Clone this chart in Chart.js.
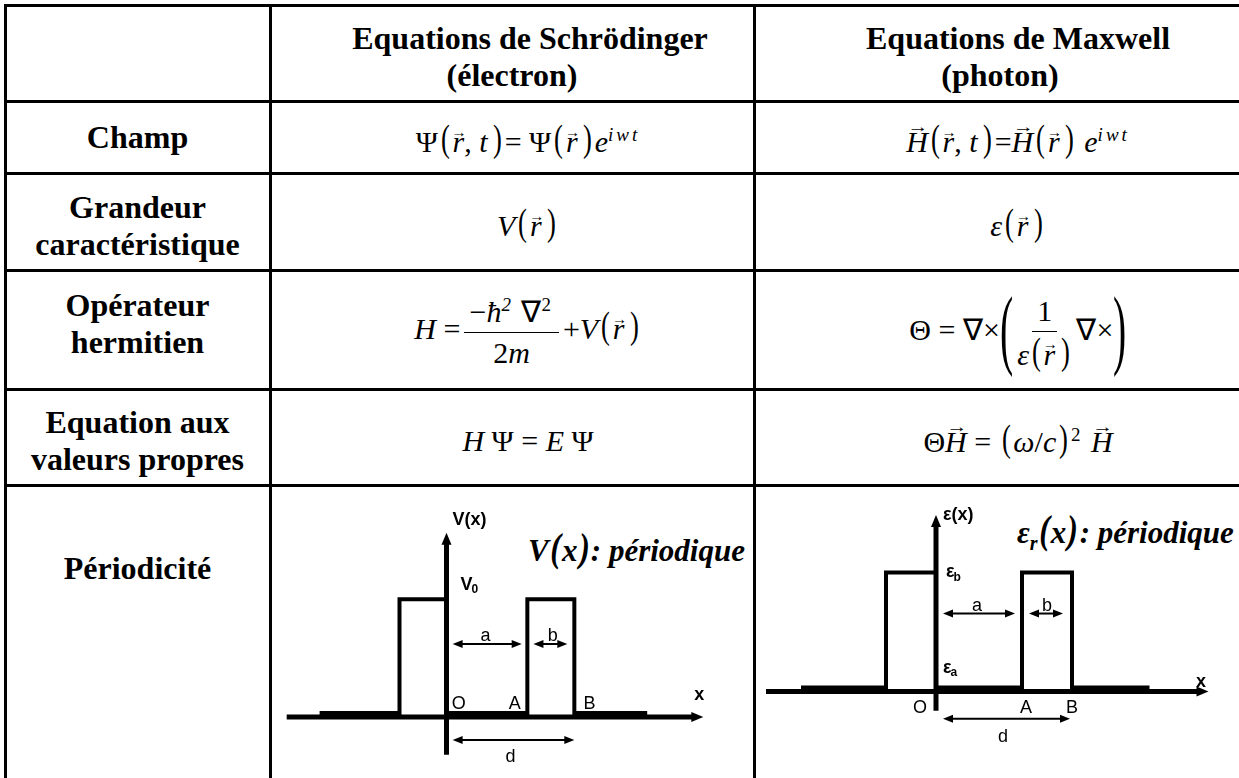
<!DOCTYPE html>
<html lang="fr">
<head>
<meta charset="UTF-8">
<title>Schrödinger / Maxwell</title>
<script src="https://cdn.jsdelivr.net/npm/chart.js"></script>
<style>
    body { margin: 0; width: 1239px; height: 778px; overflow: hidden; position: relative; background: #fff; color: #000;
           font-family: "Liberation Serif", "Times New Roman", serif; }
    .hl { position: absolute; left: 4px; width: 1240px; height: 3px; background: #000; }
    .vl { position: absolute; top: 4px; width: 3px; height: 780px; background: #000; }
    .cell { position: absolute; box-sizing: border-box; display: flex; flex-direction: column; align-items: center;
            justify-content: center; font-size: 32px; line-height: 37px; white-space: nowrap; }
    .hd { font-weight: bold; }
    .f2, .f3 { font-size: 30px; padding-top: 6px; }
    .f2 { padding-left: 32px; }
    .f3 { padding-left: 36px; }
    .cell i { font-style: italic; }
    .p { display: inline-block; font-size: 38px; transform: scaleX(0.7); margin: 0 1px; position: relative; top: -1px; }
    .vr, .vh { position: relative; display: inline-block; }
    .vr::after, .vh::after { content: "\2192"; position: absolute; left: 50%; font-size: 15px; line-height: 1;
                             font-style: normal; transform: translateX(-45%); }
    .vr::after { top: 2px; }
    .vh::after { top: -6px; left: 55%; font-size: 21px; transform: translateX(-50%) scaleY(0.75); }
    sup { font-size: 19px; line-height: 0; vertical-align: 0.6em; font-style: italic; letter-spacing: 3px; }
    .frac { display: inline-flex; flex-direction: column; align-items: center; vertical-align: middle; margin: 0 4px; line-height: 40px; }
    .frac .num { border-bottom: 1.5px solid #000; padding: 0 5px 0; }
    .bp { display: inline-block; font-size: 88px; line-height: 1; vertical-align: middle; transform: scaleX(0.45); margin: 0 -8px; position: relative; top: -4px; }
    .pt { position: absolute; font: italic bold 31px/36px "Liberation Serif", serif; white-space: nowrap; }
    .pt .pp { display: inline-block; font-size: 40px; transform: scaleX(0.8); }
    .pt sub { font-size: 20px; line-height: 0; }
    canvas { position: absolute; }
</style>
</head>
<body>
<!-- grille du tableau -->
<div class="hl" style="top:3.5px"></div>
<div class="hl" style="top:99.5px"></div>
<div class="hl" style="top:171.5px"></div>
<div class="hl" style="top:268.5px"></div>
<div class="hl" style="top:387.5px"></div>
<div class="hl" style="top:483.5px"></div>
<div class="vl" style="left:3.5px"></div>
<div class="vl" style="left:268.5px"></div>
<div class="vl" style="left:752.5px"></div>

<!-- en-tetes -->
<div class="cell hd" style="left:271px;top:6px;width:482px;height:94px;padding-top:8px">
    <div style="padding-left:36px">Equations de Schrödinger</div><div>(électron)</div>
</div>
<div class="cell hd" style="left:755px;top:6px;width:490px;height:94px;padding-top:8px">
    <div style="padding-left:36px">Equations de Maxwell</div><div>(photon)</div>
</div>

<!-- premiere colonne -->
<div class="cell hd" style="left:6px;top:102px;width:263px;height:70px">Champ</div>
<div class="cell hd" style="left:6px;top:174px;width:263px;height:95px;padding-top:8px"><div>Grandeur</div><div>caractéristique</div></div>
<div class="cell hd" style="left:6px;top:271px;width:263px;height:117px;padding-bottom:12px"><div>Opérateur</div><div>hermitien</div></div>
<div class="cell hd" style="left:6px;top:390px;width:263px;height:94px;padding-top:8px"><div>Equation aux</div><div>valeurs propres</div></div>
<div class="cell hd" style="left:6px;top:486px;width:263px;height:292px;justify-content:flex-start;padding-top:64px">Périodicité</div>

<!-- formules -->
<div class="cell f2" style="left:271px;top:102px;width:482px;height:70px">
    <span>Ψ<span class="p">(</span><i class="vr">r</i>, <i>t</i>&#8202;<span class="p">)</span>= Ψ<span class="p">(</span><i class="vr">r</i>&#8202;<span class="p">)</span><i>e</i><sup>iwt</sup></span>
</div>
<div class="cell f3" style="left:755px;top:102px;width:490px;height:70px">
    <span><i class="vh">H</i><span class="p">(</span><i class="vr">r</i>, <i>t</i>&#8202;<span class="p">)</span>=<i class="vh">H</i><span class="p">(</span><i class="vr">r</i>&#8202;<span class="p">)</span> <i>e</i><sup>iwt</sup></span>
</div>
<div class="cell f2" style="left:271px;top:174px;width:482px;height:95px">
    <span><i>V</i><span class="p">(</span><i class="vr">r</i>&#8202;<span class="p">)</span></span>
</div>
<div class="cell f3" style="left:755px;top:174px;width:490px;height:95px">
    <span><i>ε</i><span class="p">(</span><i class="vr">r</i>&#8202;<span class="p">)</span></span>
</div>
<div class="cell f2" style="left:271px;top:271px;width:482px;height:117px">
    <span><i>H</i> =<span class="frac"><span class="num">−<i>ħ</i><sup>2</sup> ∇<sup style="font-style:normal">2</sup></span><span>2<i>m</i></span></span>+<i>V</i><span class="p">(</span><i class="vr">r</i>&#8202;<span class="p">)</span></span>
</div>
<div class="cell f3" style="left:755px;top:271px;width:490px;height:117px">
    <span>Θ = ∇×<span class="bp">(</span><span class="frac"><span class="num">1</span><span><i>ε</i><span class="p">(</span><i class="vr">r</i>&#8202;<span class="p">)</span></span></span>∇×<span class="bp">)</span></span>
</div>
<div class="cell f2" style="left:271px;top:390px;width:482px;height:94px">
    <span><i>H</i> Ψ = <i>E</i> Ψ</span>
</div>
<div class="cell f3" style="left:755px;top:390px;width:490px;height:94px">
    <span>Θ<i class="vh">H</i> = <span class="p">(</span><i>ω</i>/<i>c</i><span class="p">)</span><sup style="font-style:normal">2</sup> <i class="vh">H</i></span>
</div>

<!-- periodicite -->
<div class="pt" style="left:528px;top:530px">V<span class="pp">(</span>x<span class="pp">)</span>: périodique</div>
<div class="pt" style="left:1017px;top:512px">ε<sub>r</sub><span class="pp">(</span>x<span class="pp">)</span>: périodique</div>

<canvas id="vChart" width="470" height="289" style="left:281.5px;top:492.8px"></canvas>
<canvas id="epsChart" width="475" height="286" style="left:761px;top:488.7px"></canvas>

<script>
    // profil periodique : demi-periode a gauche + une periode (b = 1, a = 1.72)
    const profileX = [-2.7, -1, -1, 0, 0, 1.72, 1.72, 2.72, 2.72, 4.27];
    const profileY = [0.035, 0.035, 1, 1, 0.035, 0.035, 1, 1, 0.035, 0.035];
    const xAxisX = [-3.4, 5.23];
    const vAxisY = [-0.32, 1.47];
    const epsAxisY = [-0.16, 1.39];
    const pointNames = ['O', 'A', 'B'];
    const pointX = [0, 1.72, 2.72];

    function arrowHead(ctx, tx, ty, dx, dy, len, half) {
        const bx = tx - dx * len, by = ty - dy * len;
        ctx.beginPath();
        ctx.moveTo(tx, ty);
        ctx.lineTo(bx - dy * half, by + dx * half);
        ctx.lineTo(bx + dy * half, by - dx * half);
        ctx.closePath();
        ctx.fill();
    }

    const decor = {
        id: 'decor',
        afterDatasetsDraw(chart, args, opts) {
            const ctx = chart.ctx;
            const px = v => chart.scales.x.getPixelForValue(v);
            const py = v => chart.scales.y.getPixelForValue(v);
            ctx.save();
            ctx.fillStyle = '#000';
            ctx.strokeStyle = '#000';

            // fleches des axes
            arrowHead(ctx, px(0), py(opts.yAxis[1]) - 11, 0, -1, 12, 5);
            arrowHead(ctx, px(xAxisX[1]) + 11, py(0), 1, 0, 12, 5);

            // cotes a, b, d
            ctx.lineWidth = 2;
            opts.dims.forEach(d => {
                const x1 = px(d.from), x2 = px(d.to), yy = py(d.y);
                ctx.beginPath();
                ctx.moveTo(x1 + 5, yy);
                ctx.lineTo(x2 - 5, yy);
                ctx.stroke();
                arrowHead(ctx, x1, yy, -1, 0, 10, 4);
                arrowHead(ctx, x2, yy, 1, 0, 10, 4);
            });

            // etiquettes
            opts.labels.forEach(l => {
                ctx.font = (l.bold ? 'bold ' : '') + '18px "Liberation Sans", Arial, sans-serif';
                ctx.textBaseline = 'middle';
                ctx.textAlign = l.align || 'center';
                const x = px(l.x), y = py(l.y);
                ctx.fillText(l.t, x, y);
                if (l.sub) {
                    const w = ctx.measureText(l.t).width;
                    ctx.font = 'bold 12px "Liberation Sans", Arial, sans-serif';
                    ctx.textAlign = 'left';
                    ctx.fillText(l.sub, x + w - 1, y + 5);
                }
            });
            ctx.restore();
        }
    };

    function makeDiagram(id, xRange, yRange, yAxis, dims, labels) {
        const line = (data, w) => ({
            data, showLine: true, borderColor: '#000', borderWidth: w, pointRadius: 0,
            tension: 0, borderJoinStyle: 'miter', borderCapStyle: 'butt', fill: false
        });
        new Chart(document.getElementById(id), {
            type: 'scatter',
            data: {
                datasets: [
                    line(xAxisX.map(x => ({ x, y: 0 })), 5),
                    line(yAxis.map(y => ({ x: 0, y })), 5),
                    line(profileX.map((x, i) => ({ x, y: profileY[i] })), 4)
                ]
            },
            options: {
                responsive: false,
                animation: false,
                events: [],
                layout: { padding: 0 },
                plugins: { legend: { display: false }, tooltip: { enabled: false }, decor: { yAxis, dims, labels } },
                scales: {
                    x: { type: 'linear', display: false, min: xRange[0], max: xRange[1] },
                    y: { type: 'linear', display: false, min: yRange[0], max: yRange[1] }
                }
            },
            plugins: [decor]
        });
    }

    makeDiagram('vChart', [-3.5, 6.5], [-0.55, 1.9], vAxisY,
        [
            { from: pointX[0] + 0.13, to: pointX[1] - 0.12, y: 0.62 },
            { from: pointX[1] + 0.13, to: pointX[2] - 0.15, y: 0.62 },
            { from: pointX[0] + 0.13, to: pointX[2], y: -0.195 }
        ],
        [
            { t: 'V(x)', x: 0.13, y: 1.67, align: 'left', bold: true },
            { t: 'V', sub: '0', x: 0.3, y: 1.12, align: 'left', bold: true },
            { t: 'a', x: 0.83, y: 0.69 },
            { t: 'b', x: 2.26, y: 0.69 },
            { t: pointNames[0], x: pointX[0] + 0.26, y: 0.11 },
            { t: pointNames[1], x: pointX[1] - 0.27, y: 0.11 },
            { t: pointNames[2], x: pointX[2] + 0.32, y: 0.11 },
            { t: 'd', x: 1.36, y: -0.34 },
            { t: 'x', x: 5.38, y: 0.19, bold: true }
        ]);

    makeDiagram('epsChart', [-3.5, 6.0], [-0.7, 1.7], epsAxisY,
        [
            { from: pointX[0] + 0.14, to: pointX[1] - 0.14, y: 0.655 },
            { from: pointX[1] + 0.14, to: pointX[2] - 0.18, y: 0.655 },
            { from: pointX[0] + 0.14, to: pointX[2] - 0.04, y: -0.227 }
        ],
        [
            { t: 'ε(x)', x: 0.14, y: 1.48, align: 'left', bold: true },
            { t: 'ε', sub: 'b', x: 0.2, y: 1.0, align: 'left', bold: true },
            { t: 'ε', sub: 'a', x: 0.14, y: 0.2, align: 'left', bold: true },
            { t: 'a', x: 0.82, y: 0.714 },
            { t: 'b', x: 2.22, y: 0.714 },
            { t: pointNames[0], x: pointX[0] - 0.32, y: -0.134 },
            { t: pointNames[1], x: pointX[1] + 0.08, y: -0.134 },
            { t: pointNames[2], x: pointX[2], y: -0.134 },
            { t: 'd', x: 1.34, y: -0.378 },
            { t: 'x', x: 5.3, y: 0.076, bold: true }
        ]);
</script>
</body>
</html>
